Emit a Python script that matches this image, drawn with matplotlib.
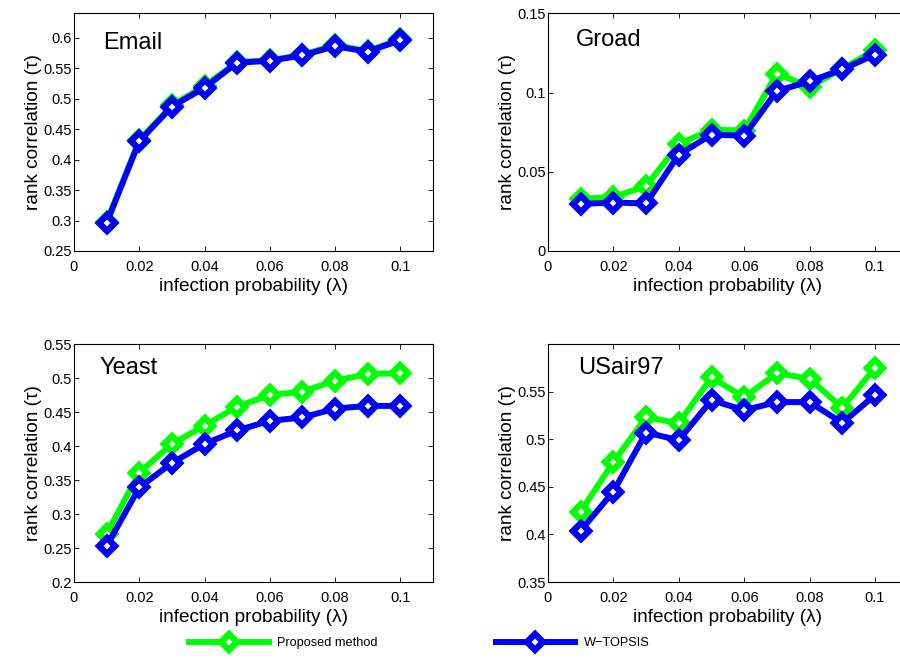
import matplotlib
matplotlib.use("Agg")
import matplotlib.pyplot as plt
from matplotlib.ticker import FuncFormatter

plt.rcParams['font.family'] = ['Liberation Sans', 'DejaVu Sans']

lam = [0.01, 0.02, 0.03, 0.04, 0.05, 0.06, 0.07, 0.08, 0.09, 0.10]

email_proposed = [0.298, 0.432, 0.489, 0.521, 0.560, 0.563, 0.572, 0.588, 0.578, 0.598]
email_wtopsis  = [0.296, 0.430, 0.487, 0.518, 0.559, 0.562, 0.571, 0.586, 0.577, 0.596]

groad_proposed = [0.033, 0.034, 0.041, 0.0675, 0.0766, 0.076, 0.112, 0.1036, 0.115, 0.1268]
groad_wtopsis  = [0.0297, 0.0306, 0.030, 0.0608, 0.0734, 0.0728, 0.101, 0.107, 0.1146, 0.124]

yeast_proposed = [0.271, 0.361, 0.403, 0.430, 0.458, 0.475, 0.480, 0.496, 0.506, 0.507]
yeast_wtopsis  = [0.253, 0.339, 0.375, 0.403, 0.423, 0.437, 0.442, 0.455, 0.459, 0.459]

usair_proposed = [0.424, 0.476, 0.523, 0.517, 0.565, 0.544, 0.5695, 0.5635, 0.533, 0.575]
usair_wtopsis  = [0.404, 0.445, 0.507, 0.499, 0.541, 0.5305, 0.539, 0.539, 0.517, 0.5465]

names = ["Email", "Groad", "Yeast", "USair97"]
ylims = [(0.25, 0.64), (0.0, 0.15), (0.2, 0.55), (0.35, 0.60)]
yticks = [
    [0.25, 0.3, 0.35, 0.4, 0.45, 0.5, 0.55, 0.6],
    [0, 0.05, 0.1, 0.15],
    [0.2, 0.25, 0.3, 0.35, 0.4, 0.45, 0.5, 0.55],
    [0.35, 0.4, 0.45, 0.5, 0.55],
]
xticks = [0, 0.02, 0.04, 0.06, 0.08, 0.1]
series = [
    (email_proposed, email_wtopsis),
    (groad_proposed, groad_wtopsis),
    (yeast_proposed, yeast_wtopsis),
    (usair_proposed, usair_wtopsis),
]
label_pos = [(0.08, 0.874), (0.078, 0.886), (0.07, 0.899), (0.083, 0.899)]

W, H = 900, 659
fig = plt.figure(figsize=(W / 100, H / 100), dpi=100)

def rect(l, t, r, b):
    return [l / W, 1 - b / H, (r - l) / W, (b - t) / H]

rects = [rect(74, 13.3, 433, 251), rect(548, 13.3, 907.7, 251),
         rect(74, 344, 433, 582), rect(548, 344, 907.7, 582)]

GREEN = (0, 1, 0)
BLUE = (0, 0, 1)

fmt = FuncFormatter(lambda v, p: ("%g" % round(v, 4)))

style = dict(lw=4.3, marker='D', ms=8.0, mfc='white', mew=4.6)

handles = None
for i in range(4):
    ax = fig.add_axes(rects[i])
    prop, wt = series[i]
    l1, = ax.plot(lam, prop, color=GREEN, mec=GREEN, label='Proposed method', **style)
    l2, = ax.plot(lam, wt, color=BLUE, mec=BLUE, label='W\u2212TOPSIS', **style)
    if handles is None:
        handles = [l1, l2]
    ax.set_xlim(0, 0.11)
    ax.set_ylim(*ylims[i])
    ax.set_xticks(xticks)
    ax.set_yticks(yticks[i])
    ax.xaxis.set_major_formatter(fmt)
    ax.yaxis.set_major_formatter(fmt)
    ax.tick_params(direction='in', length=3.5, width=0.6, labelsize=10.5,
                   top=True, right=True)
    ax.tick_params(axis='x', pad=6.5)
    ax.tick_params(axis='y', pad=1.5)
    for s in ax.spines.values():
        s.set_linewidth(0.8)
    ax.set_xlabel('infection probability (\u03bb)', fontsize=13.7, labelpad=3)
    ax.set_ylabel('rank correlation (\u03c4)', fontsize=13.7, labelpad=1)
    ax.text(label_pos[i][0], label_pos[i][1], names[i], transform=ax.transAxes,
            fontsize=17, ha='left', va='center')

fig.legend(handles, ['Proposed method', 'W\u2212TOPSIS'], loc='center',
           bbox_to_anchor=(0.466, 1 - 643 / H), ncol=2, frameon=False,
           fontsize=9.2, handlelength=6.2, handletextpad=0.7,
           columnspacing=9.2)

fig.savefig('out.png', dpi=100)
